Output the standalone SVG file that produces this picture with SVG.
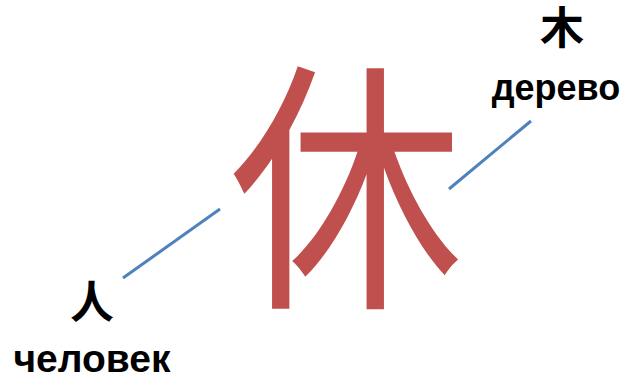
<svg xmlns="http://www.w3.org/2000/svg" width="635" height="377" viewBox="0 0 635 377">
<style>
.cjk{font-family:"Noto Sans CJK SC","Noto Sans CJK JP",sans-serif;text-anchor:middle;fill:#000}
.ru{font-family:"Liberation Sans",Arial,sans-serif;font-weight:bold;text-anchor:middle;fill:#000}
.conn{stroke:#4F81BD;stroke-width:3;fill:none}
</style>
<rect width="635" height="377" fill="#fff"/>
<g id="main">
<text class="cjk" x="0" y="0" font-size="266" style="fill:#C0504D" transform="translate(346,288) scale(0.88,1)">休</text>
</g>
<g id="tree">
<text class="cjk" x="562" y="44" font-size="44" font-weight="bold">木</text>
<text class="ru" x="556" y="100" font-size="36">дерево</text>
</g>
<g id="person">
<text class="cjk" x="92" y="318" font-size="44" font-weight="bold">人</text>
<text class="ru" x="92" y="372" font-size="39">человек</text>
</g>
<g id="connectors">
<line class="conn" x1="449" y1="189" x2="531" y2="121"/>
<line class="conn" x1="123" y1="278" x2="220" y2="209"/>
</g>
</svg>
